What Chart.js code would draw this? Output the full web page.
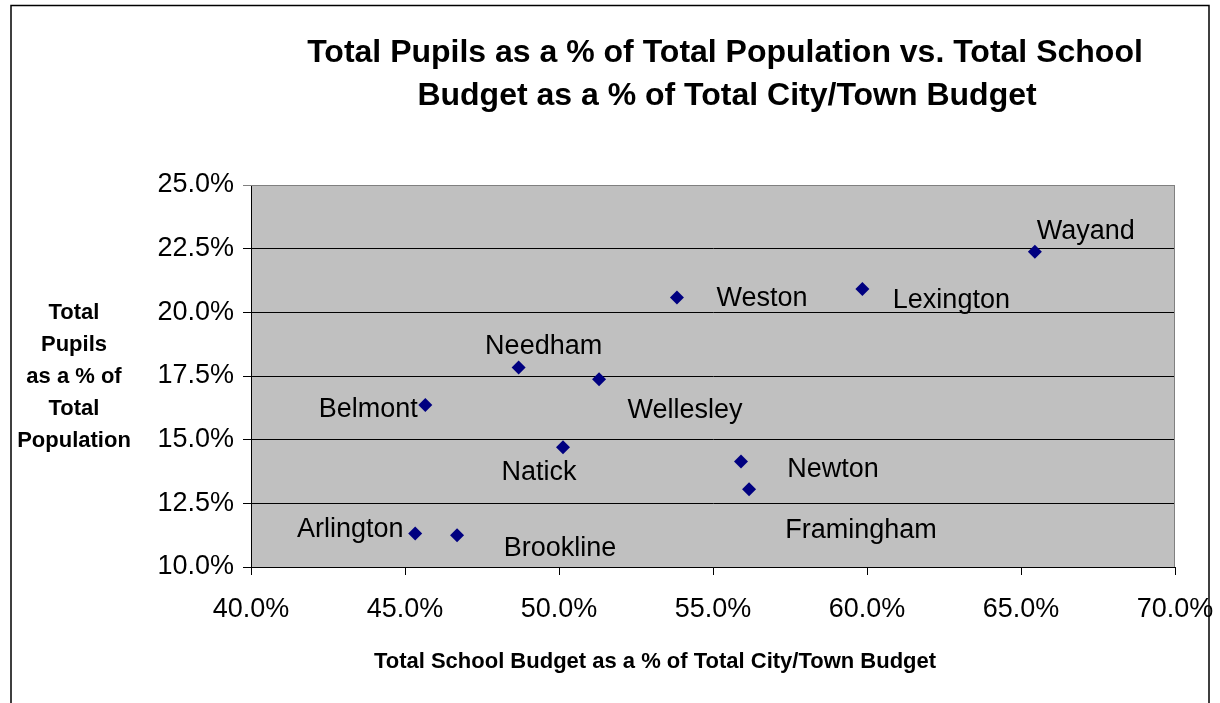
<!DOCTYPE html>
<html>
<head>
<meta charset="utf-8">
<script src="https://cdn.jsdelivr.net/npm/chart.js@4/dist/chart.umd.min.js"></script>
<style>
  html, body { margin: 0; padding: 0; background: #fff; }
  #wrap { width: 1220px; height: 703px; position: relative; }
</style>
</head>
<body>
<div id="wrap"><canvas id="scatterChart" width="1220" height="703"></canvas></div>
<script>
// data
var towns = ['Wayand', 'Lexington', 'Weston', 'Needham', 'Wellesley', 'Natick', 'Newton', 'Framingham', 'Belmont', 'Arlington', 'Brookline'];
var schoolBudgetPct = [65.45, 59.85, 53.83, 48.69, 51.30, 50.13, 55.91, 56.17, 45.66, 45.33, 46.69];
var pupilsPct = [22.38, 20.92, 20.58, 17.83, 17.37, 14.70, 14.14, 13.05, 16.36, 11.32, 11.25];
var xTicks = [40, 45, 50, 55, 60, 65, 70];
var yTicks = [10, 12.5, 15, 17.5, 20, 22.5, 25];

// where each town's name sits relative to its marker (px)
var labelOffsets = [[51, -20], [89, 12], [85, 1], [25, -21], [86, 31], [-24, 25], [92, 8], [112, 41], [-57, 5], [-65, -4], [103, 13]];

var points = towns.map(function (t, i) {
    return { x: schoolBudgetPct[i], y: pupilsPct[i] };
});

var FONT = "'Liberation Sans', Arial, sans-serif";

var decorPlugin = {
    id: 'decor',
    beforeDraw: function (chart) {
        var ctx = chart.ctx, a = chart.chartArea;
        ctx.save();
        ctx.fillStyle = '#fff';
        ctx.fillRect(0, 0, chart.width, chart.height);
        // outer frame (no bottom edge visible)
        ctx.strokeStyle = '#000';
        ctx.lineWidth = 1.5;
        ctx.beginPath();
        ctx.moveTo(11, 703);
        ctx.lineTo(11, 5.5);
        ctx.lineTo(1209, 5.5);
        ctx.lineTo(1209, 703);
        ctx.stroke();
        // plot area
        ctx.fillStyle = '#c0c0c0';
        ctx.fillRect(a.left, a.top, a.right - a.left, a.bottom - a.top);
        ctx.restore();
    },
    afterDraw: function (chart) {
        var ctx = chart.ctx, a = chart.chartArea;
        ctx.save();
        // gray top and right edges of plot area
        ctx.strokeStyle = '#808080';
        ctx.lineWidth = 1;
        ctx.beginPath();
        ctx.moveTo(a.left, a.top + 0.5);
        ctx.lineTo(a.right - 0.5, a.top + 0.5);
        ctx.lineTo(a.right - 0.5, a.bottom);
        ctx.stroke();

        // town labels
        var meta = chart.getDatasetMeta(0);
        ctx.fillStyle = '#000';
        ctx.font = '27px ' + FONT;
        ctx.textAlign = 'center';
        ctx.textBaseline = 'middle';
        meta.data.forEach(function (pt, i) {
            ctx.fillText(towns[i], pt.x + labelOffsets[i][0], pt.y + labelOffsets[i][1]);
        });

        // chart title
        ctx.font = 'bold 32px ' + FONT;
        ctx.fillText('Total Pupils as a % of Total Population vs. Total School', 725, 53);
        ctx.fillText('Budget as a % of Total City/Town Budget', 727, 96);

        // axis titles
        ctx.font = 'bold 22px ' + FONT;
        ctx.fillText('Total School Budget as a % of Total City/Town Budget', 655, 662);
        var yTitle = ['Total', 'Pupils', 'as a % of', 'Total', 'Population'];
        yTitle.forEach(function (s, i) {
            ctx.fillText(s, 74, 313 + i * 32);
        });
        ctx.restore();
    }
};

var scatterChart = new Chart(document.getElementById('scatterChart').getContext('2d'), {
    type: 'scatter',
    data: {
        datasets: [{
            label: 'Towns',
            data: points,
            pointStyle: 'rectRot',
            pointRadius: 7,
            pointHoverRadius: 7,
            backgroundColor: '#000080',
            borderColor: '#000080',
            borderWidth: 0
        }]
    },
    options: {
        responsive: false,
        animation: false,
        events: [],
        layout: {
            padding: { left: 0, top: 185, right: 45, bottom: 0 }
        },
        plugins: {
            legend: { display: false },
            tooltip: { enabled: false },
            title: { display: false }
        },
        scales: {
            x: {
                type: 'linear',
                min: xTicks[0],
                max: xTicks[xTicks.length - 1],
                afterBuildTicks: function (scale) {
                    scale.ticks = xTicks.map(function (v) { return { value: v }; });
                },
                afterFit: function (scale) {
                    scale.height = 136;
                    scale.paddingLeft = 0;
                    scale.paddingRight = 0;
                },
                ticks: {
                    color: '#000',
                    font: { family: FONT, size: 27 },
                    padding: 18,
                    maxRotation: 0,
                    callback: function (v) { return v.toFixed(1) + '%'; }
                },
                grid: {
                    drawOnChartArea: false,
                    drawTicks: true,
                    tickLength: 8,
                    color: '#000'
                },
                border: { display: true, color: '#000', width: 1 }
            },
            y: {
                type: 'linear',
                min: yTicks[0],
                max: yTicks[yTicks.length - 1],
                afterBuildTicks: function (scale) {
                    scale.ticks = yTicks.map(function (v) { return { value: v }; });
                },
                afterFit: function (scale) {
                    scale.width = 251;
                    scale.paddingTop = 0;
                    scale.paddingBottom = 0;
                },
                ticks: {
                    color: '#000',
                    font: { family: FONT, size: 27 },
                    padding: 9,
                    callback: function (v) { return v.toFixed(1) + '%'; }
                },
                grid: {
                    drawTicks: true,
                    tickLength: 8,
                    color: function (c) { return c.tick && c.tick.value === 25 ? '#808080' : '#000'; },
                    lineWidth: 1
                },
                border: { display: true, color: '#000', width: 1 }
            }
        }
    },
    plugins: [decorPlugin]
});
</script>
</body>
</html>
